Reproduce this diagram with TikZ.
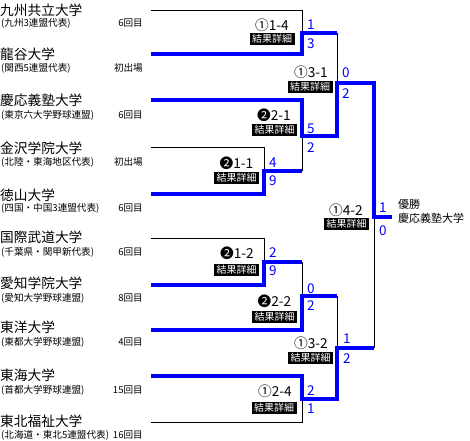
\documentclass[tikz,border=0pt]{standalone}
\usepackage{fontspec}
\setmainfont{Noto Sans CJK JP}
\definecolor{sblue}{RGB}{0,0,255}
\begin{document}
\begin{tikzpicture}[x=1pt,y=-1pt,
  team/.style={inner sep=0pt, text height=12.06pt, text depth=1.64pt, anchor=west, font=\fontsize{13.7}{14}\selectfont},
  sub/.style={inner sep=0pt, text height=8.45pt, text depth=1.15pt, anchor=west, font=\fontsize{9.6}{10}\selectfont},
  times/.style={sub, anchor=east},
  pts/.style={inner sep=0pt, text height=11.88pt, text depth=1.62pt, anchor=west, text=sblue, font=\fontsize{13.5}{14}\selectfont},
  res/.style={inner sep=0pt, text height=12.06pt, text depth=1.64pt, font=\fontsize{13.7}{14}\selectfont},
  det/.style={fill=black, text=white, inner sep=0pt, text height=8.8pt, text depth=1.2pt, minimum width=45pt, minimum height=12pt, font=\fontsize{10}{10}\selectfont},
  champ/.style={inner sep=0pt, text height=9.68pt, text depth=1.32pt, anchor=west, font=\fontsize{11}{12}\selectfont},
  lose/.style={line width=1pt, draw=black},
  win/.style={line width=4pt, draw=sblue},
]
\fill[white] (0,0) rectangle (470,440);
\useasboundingbox (0,0) rectangle (470,440);

% team names
\node[team] (n1) at (0,10) {九州共立大学};
\node[sub] (s1) at (1,23) {(九州3連盟代表)};
\node[times] (c1) at (143,23) {6回目};
\node[team] (n2) at (0,54) {龍谷大学};
\node[sub] (s2) at (1,68) {(関西5連盟代表)};
\node[times] (c2) at (143,68) {初出場};
\node[team] (n3) at (0,100) {慶応義塾大学};
\node[sub] (s3) at (1,115) {(東京六大学野球連盟)};
\node[times] (c3) at (143,115) {6回目};
\node[team] (n4) at (0,148) {金沢学院大学};
\node[sub] (s4) at (1,162) {(北陸・東海地区代表)};
\node[times] (c4) at (143,162) {初出場};
\node[team] (n5) at (0,195) {徳山大学};
\node[sub] (s5) at (1,208) {(四国・中国3連盟代表)};
\node[times] (c5) at (143,208) {6回目};
\node[team] (n6) at (0,237) {国際武道大学};
\node[sub] (s6) at (1,252) {(千葉県・関甲新代表)};
\node[times] (c6) at (143,252) {6回目};
\node[team] (n7) at (0,283) {愛知学院大学};
\node[sub] (s7) at (1,298) {(愛知大学野球連盟)};
\node[times] (c7) at (143,298) {8回目};
\node[team] (n8) at (0,327) {東洋大学};
\node[sub] (s8) at (1,342) {(東都大学野球連盟)};
\node[times] (c8) at (143,342) {4回目};
\node[team] (n9) at (0,375) {東海大学};
\node[sub] (s9) at (1,390) {(首都大学野球連盟)};
\node[times] (c9) at (143,390) {15回目};
\node[team] (n10) at (0,421) {東北福祉大学};
\node[sub] (s10) at (1,435) {(北海道・東北5連盟代表)};
\node[times] (c10) at (143,435) {16回目};

% line starts
\coordinate (p1) at (151,10);
\coordinate (p2) at (151,54);
\coordinate (p3) at (151,100);
\coordinate (p4) at (151,147);
\coordinate (p5) at (151,194);
\coordinate (p6) at (151,238);
\coordinate (p7) at (151,285);
\coordinate (p8) at (151,330);
\coordinate (p9) at (151,376);
\coordinate (p10) at (151,422);
% match midpoints
\coordinate (m1) at (302,33);
\coordinate (m3) at (264,171);
\coordinate (m2) at (302,136);
\coordinate (m4) at (337,83);
\coordinate (m5) at (264,262);
\coordinate (m6) at (302,296);
\coordinate (m7) at (302,399);
\coordinate (m8) at (337,348);
\coordinate (fin) at (374,217);
\coordinate (top) at (392,217);

% losing lines
\draw[lose] (p1) -| (m1);
\draw[lose] (p4) -| (m3);
\draw[lose] (m3 -| m2) -- (m2);
\draw[lose] (m1 -| m4) -- (m4);
\draw[lose] (p6) -| (m5);
\draw[lose] (m5 -| m6) -- (m6);
\draw[lose] (p10) -| (m7);
\draw[lose] (m6 -| m8) -- (m8);
\draw[lose] (m8 -| fin) -- (fin);

% winning lines
\draw[win] (p2) -| (m1) -- (m1 -| m4);
\draw[win] (p5) -| (m3) -- (m3 -| m2);
\draw[win] (p3) -| (m2) -- (m2 -| m4) -- (m4) -- (m4 -| fin) -- (fin) -- (top);
\draw[win] (p7) -| (m5) -- (m5 -| m6);
\draw[win] (p8) -| (m6) -- (m6 -| m8);
\draw[win] (p9) -| (m7) -- (m7 -| m8) -- (m8) -- (m8 -| fin);

% results
\node[res] (r1) at (272,25) {①1-4};
\node[det] (d1) at (272,39) {結果詳細};
\node[res] (r2) at (274,115) {❷2-1};
\node[det] (d2) at (274.5,130) {結果詳細};
\node[res] (r3) at (236.5,163) {❷1-1};
\node[det] (d3) at (236.5,177.5) {結果詳細};
\node[res] (r4) at (311,72) {①3-1};
\node[det] (d4) at (310,87) {結果詳細};
\node[res] (r5) at (346,210) {①4-2};
\node[det] (d5) at (346.5,224) {結果詳細};
\node[res] (r6) at (237,253) {❷1-2};
\node[det] (d6) at (236.5,270) {結果詳細};
\node[res] (r7) at (274.5,301) {❷2-2};
\node[det] (d7) at (274.5,317) {結果詳細};
\node[res] (r8) at (275,391) {①2-4};
\node[det] (d8) at (274,408) {結果詳細};
\node[res] (r9) at (311,343) {①3-2};
\node[det] (d9) at (310.5,358) {結果詳細};

% scores
\node[pts] (a1) at (307,24) {1};
\node[pts] (b1) at (307,43) {3};
\node[pts] (a2) at (307,128) {5};
\node[pts] (b2) at (307,147) {2};
\node[pts] (a3) at (269,162) {4};
\node[pts] (b3) at (269,180) {9};
\node[pts] (a4) at (342,72) {0};
\node[pts] (b4) at (342,93) {2};
\node[pts] (a5) at (379,207) {1};
\node[pts] (b5) at (379,230) {0};
\node[pts] (a6) at (269,252) {2};
\node[pts] (b6) at (269,270) {9};
\node[pts] (a7) at (307,288) {0};
\node[pts] (b7) at (307,305) {2};
\node[pts] (a8) at (307,390) {2};
\node[pts] (b8) at (307,408) {1};
\node[pts] (a9) at (343,338) {1};
\node[pts] (b9) at (343,358) {2};

% champion
\node[champ] (w1) at (398,204) {優勝};
\node[champ] (w2) at (398,218) {慶応義塾大学};
\end{tikzpicture}
\end{document}
